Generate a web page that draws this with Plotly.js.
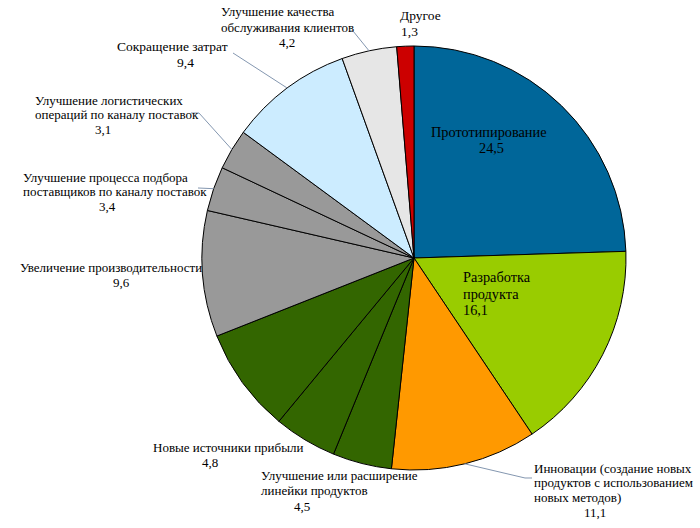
<!DOCTYPE html>
<html><head><meta charset="utf-8">
<script src="https://cdn.plot.ly/plotly-3.0.1.min.js"></script>
<style>html,body{margin:0;padding:0;background:#fff}#chart{width:700px;height:528px}
#chart text.annotation-text{font-family:'Liberation Serif', serif !important;}</style>
</head><body><div id="chart"></div>
<script>
// ---- data ----
const categories = [
  'Прототипирование',
  'Разработка|продукта',
  'Инновации (создание новых|продуктов с использованием|новых методов)',
  'Улучшение или расширение|линейки продуктов',
  'Новые источники прибыли',
  '',
  'Увеличение производительности',
  'Улучшение процесса подбора|поставщиков по каналу поставок',
  'Улучшение логистических|операций по каналу поставок',
  'Сокращение затрат',
  'Улучшение качества|обслуживания клиентов',
  'Другое'
];
const values = [24.5, 16.1, 11.1, 4.5, 4.8, 8.0, 9.6, 3.4, 3.1, 9.4, 4.2, 1.3];
const sliceColors = ['#006699', '#99CC00', '#FF9900', '#336600', '#336600', '#336600',
                     '#999999', '#999999', '#999999', '#CCECFF', '#E6E6E6', '#CC0000'];

// ---- layout (pixels) ----
const W = 700, H = 528, CX = 414, CY = 258, R = 212;
const place = [
  {x: 489, y: 132, a: 'center', vx: 491, va: 'center', fs: 14.3, lh: 16},
  {x: 463, y: 277, a: 'left',   vx: 463, va: 'left',   fs: 14.3, lh: 16.5},
  {x: 534, y: 468, a: 'left',   vx: 595, va: 'center', fs: 13, lh: 14.7},
  {x: 261, y: 475, a: 'left',   vx: 302, va: 'center', fs: 13, lh: 15.5},
  {x: 228, y: 447, a: 'center', vx: 210, va: 'center', fs: 13, lh: 15},
  null,
  {x: 111, y: 267, a: 'center', vx: 121, va: 'center', fs: 13, lh: 15},
  {x: 23,  y: 177, a: 'left',   vx: 107, va: 'center', fs: 13, lh: 14.5},
  {x: 35,  y: 100, a: 'left',   vx: 103, va: 'center', fs: 13, lh: 14.5},
  {x: 172, y: 46,  a: 'center', vx: 185, va: 'center', fs: 13.5, lh: 16},
  {x: 221, y: 12,  a: 'left',   vx: 287, va: 'center', fs: 13, lh: 15},
  {x: 400, y: 15,  a: 'left',   vx: 401, va: 'left',   fs: 13.5, lh: 16}
];
const leaderStart = {
  10: [[349, 31], [353, 31]],
  9:  [[233, 53]],
  8:  [[191, 113], [199, 113]],
  7:  [[198, 188]],
  2:  [[532, 478], [525, 478]]
};

const px = x => x / W;
const py = y => 1 - y / H;
const fmt = v => v.toFixed(1).replace('.', ',');
const mkFont = s => ({family: 'Liberation Serif', size: s, color: '#000'});
const ax = (x, a) => a === 'left' ? x - 2 : x;

const annotations = [];
categories.forEach((cat, i) => {
  const p = place[i];
  if (!p) return;
  const lines = cat.split('|');
  lines.forEach((ln, j) => {
    annotations.push({xref: 'paper', yref: 'paper', x: px(ax(p.x, p.a)), y: py(p.y + j * p.lh),
      xanchor: p.a, yanchor: 'middle', text: ln, showarrow: false, font: mkFont(p.fs)});
  });
  annotations.push({xref: 'paper', yref: 'paper', x: px(ax(p.vx, p.va)), y: py(p.y + lines.length * p.lh),
    xanchor: p.va, yanchor: 'middle', text: fmt(values[i]), showarrow: false, font: mkFont(p.fs)});
});

const total = values.reduce((a, b) => a + b, 0);
const cum = [];
values.reduce((acc, v, i) => { cum[i] = acc; return acc + v; }, 0);
const shapes = Object.keys(leaderStart).map(k => {
  const i = +k;
  const th = 2 * Math.PI * (cum[i] + values[i] / 2) / total;
  const ex = CX + R * Math.sin(th), ey = CY - R * Math.cos(th);
  const pts = leaderStart[i].concat([[ex, ey]]);
  const path = pts.map((q, j) => (j ? 'L' : 'M') + px(q[0]).toFixed(5) + ',' + py(q[1]).toFixed(5)).join(' ');
  return {type: 'path', xref: 'paper', yref: 'paper', path, line: {color: '#8497B0', width: 1}, layer: 'above'};
});

const trace = {
  type: 'pie',
  values: values,
  labels: categories.map((c, i) => c ? c.replace(/\|/g, ' ') : ' '),
  sort: false,
  direction: 'clockwise',
  rotation: 0,
  textinfo: 'none',
  hoverinfo: 'none',
  showlegend: false,
  marker: {colors: sliceColors, line: {color: '#000', width: 1}},
  domain: {x: [(CX - R) / W, (CX + R) / W], y: [(H - CY - R) / H, (H - CY + R) / H]}
};

Plotly.newPlot('chart', [trace], {
  width: W, height: H,
  margin: {l: 0, r: 0, t: 0, b: 0},
  paper_bgcolor: '#fff',
  showlegend: false,
  annotations, shapes
}, {displayModeBar: false});
</script></body></html>
